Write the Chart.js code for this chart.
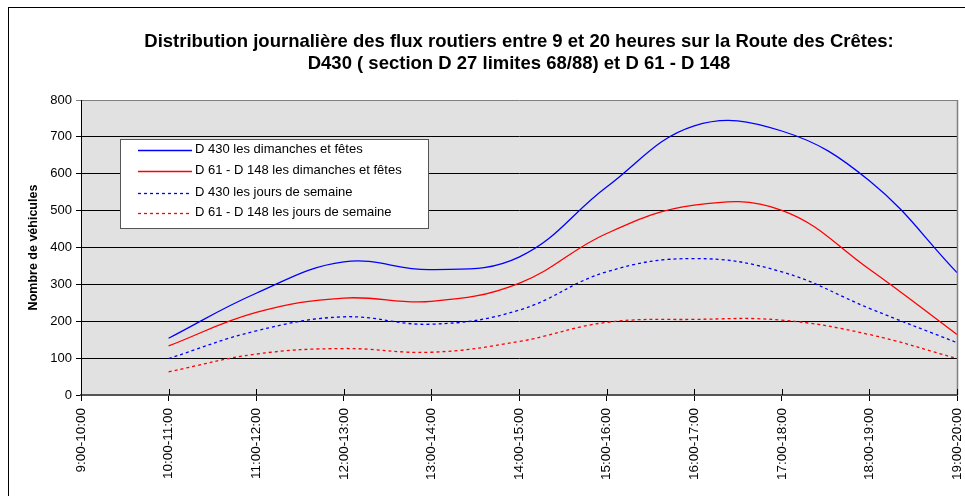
<!DOCTYPE html>
<html><head><meta charset="utf-8">
<script src="https://cdn.jsdelivr.net/npm/chart.js@4.4.1/dist/chart.umd.min.js"></script>
<style>html,body{margin:0;padding:0;background:#fff;} #wrap{position:relative;width:965px;height:496px;}</style>
</head><body><div id="wrap"><canvas id="c" width="965" height="496"></canvas></div>
<script>
const categories = ['9:00-10:00','10:00-11:00','11:00-12:00','12:00-13:00','13:00-14:00','14:00-15:00','15:00-16:00','16:00-17:00','17:00-18:00','18:00-19:00','19:00-20:00'];
const d430Dimanches = [null,154,276,361,340,374,564,730,716,581,332];
const d61Dimanches  = [null,133,224,263,254,303,438,515,501,341,164];
const d430Semaine   = [null,99,174,212,192,230,334,370,334,235,142];
const d61Semaine    = [null,63,111,126,116,145,197,205,203,164,99];
const yTicks = [0,100,200,300,400,500,600,700,800];
const seriesLabels = ['D 430 les dimanches et fêtes','D 61 - D 148 les dimanches et fêtes','D 430 les jours de semaine','D 61 - D 148 les jours de semaine'];
const titleLines = ['Distribution journalière des flux routiers entre 9 et 20 heures sur la Route des Crêtes:','D430 ( section D 27 limites 68/88) et D 61 - D 148'];
const yTitle = 'Nombre de véhicules';

const FONT = '"Liberation Sans", Arial, sans-serif';
Chart.defaults.font.family = FONT;
Chart.defaults.color = '#000';

const decor = {
  id: 'decor',
  beforeDraw(chart) {
    const ctx = chart.ctx, a = chart.chartArea;
    ctx.save();
    ctx.fillStyle = '#fff';
    ctx.fillRect(0, 0, chart.width, chart.height);
    ctx.strokeStyle = '#000'; ctx.lineWidth = 1;
    ctx.strokeRect(8.5, 7.5, 2000, 2000);
    ctx.fillStyle = '#e1e1e1';
    ctx.fillRect(a.left, a.top, a.right - a.left, a.bottom - a.top);
    ctx.restore();
  },
  afterDraw(chart) {
    const ctx = chart.ctx, a = chart.chartArea, xs = chart.scales.x;
    ctx.save();
    ctx.strokeStyle = '#808080'; ctx.lineWidth = 1.5;
    ctx.beginPath(); ctx.moveTo(a.right + 0.5, a.top); ctx.lineTo(a.right + 0.5, a.bottom); ctx.stroke();
    ctx.strokeStyle = '#000'; ctx.lineWidth = 1;
    for (let i = 0; i < categories.length; i++) {
      const x = Math.round(xs.getPixelForTick(i)) + 0.5;
      ctx.beginPath(); ctx.moveTo(x, a.bottom - 6); ctx.lineTo(x, a.bottom); ctx.stroke();
    }
    // legend
    const bx = 120.5, by = 139.5, bw = 308, bh = 89;
    ctx.fillStyle = '#fff'; ctx.fillRect(bx, by, bw, bh);
    ctx.strokeStyle = '#555'; ctx.lineWidth = 1; ctx.strokeRect(bx, by, bw, bh);
    const rows = [149, 170, 192, 212];
    chart.data.datasets.forEach((ds, i) => {
      ctx.save();
      ctx.strokeStyle = ds.borderColor; ctx.lineWidth = ds.borderWidth + (i < 2 ? 0.4 : 0);
      ctx.setLineDash(ds.borderDash || []);
      ctx.beginPath(); ctx.moveTo(138, rows[i] + 1.5); ctx.lineTo(192, rows[i] + 1.5); ctx.stroke();
      ctx.restore();
      ctx.fillStyle = '#000'; ctx.font = '13px ' + FONT; ctx.textBaseline = 'middle'; ctx.textAlign = 'left';
      ctx.fillText(ds.label, 195, rows[i]);
    });
    ctx.restore();
  }
};

const mk = (label, data, color, dash) => ({
  label, data, borderColor: color, backgroundColor: color, borderWidth: 1.3,
  borderDash: dash, pointRadius: 0, tension: 0.4, fill: false, spanGaps: false
});

new Chart(document.getElementById('c'), {
  type: 'line',
  data: {
    labels: categories,
    datasets: [
      mk(seriesLabels[0], d430Dimanches, '#0000ff', []),
      mk(seriesLabels[1], d61Dimanches, '#ff0000', []),
      mk(seriesLabels[2], d430Semaine, '#0000ff', [3, 3]),
      mk(seriesLabels[3], d61Semaine, '#ff0000', [3, 3])
    ]
  },
  options: {
    responsive: false, animation: false, devicePixelRatio: 1,
    layout: { padding: { left: 0, right: 8, top: 0, bottom: 0 } },
    plugins: {
      legend: { display: false },
      tooltip: { enabled: false },
      title: {
        display: true, text: titleLines, fullSize: false,
        font: { size: 18.5, weight: 'bold', family: FONT, lineHeight: 1.19 },
        color: '#000', padding: { top: 31, bottom: 25 }
      }
    },
    scales: {
      x: {
        type: 'category', offset: false,
        grid: { drawOnChartArea: false, tickLength: 6, color: '#000' },
        border: { color: '#555', width: 2 },
        ticks: { autoSkip: false, maxRotation: 90, minRotation: 90, padding: 7, font: { size: 13.5 }, color: '#000' },
        afterFit(s) { s.height = 101; s.paddingLeft = 0; s.paddingRight = 8; }
      },
      y: {
        min: 0, max: 800,
        afterBuildTicks(s) { s.ticks = yTicks.map(v => ({ value: v })); },
        grid: { color: ctx => (ctx.tick && ctx.tick.value === 800) ? '#808080' : '#000', lineWidth: 1, tickLength: 5 },
        border: { color: '#000', width: 1 },
        ticks: { padding: 4, font: { size: 13 }, color: '#000' },
        title: { display: true, text: yTitle, font: { size: 12.5, weight: 'bold' }, color: '#000', padding: { top: 26, bottom: 0 } },
        afterFit(s) { s.width = 81; s.paddingTop = 0; s.paddingBottom = 0; }
      }
    }
  },
  plugins: [decor]
});
</script></body></html>
